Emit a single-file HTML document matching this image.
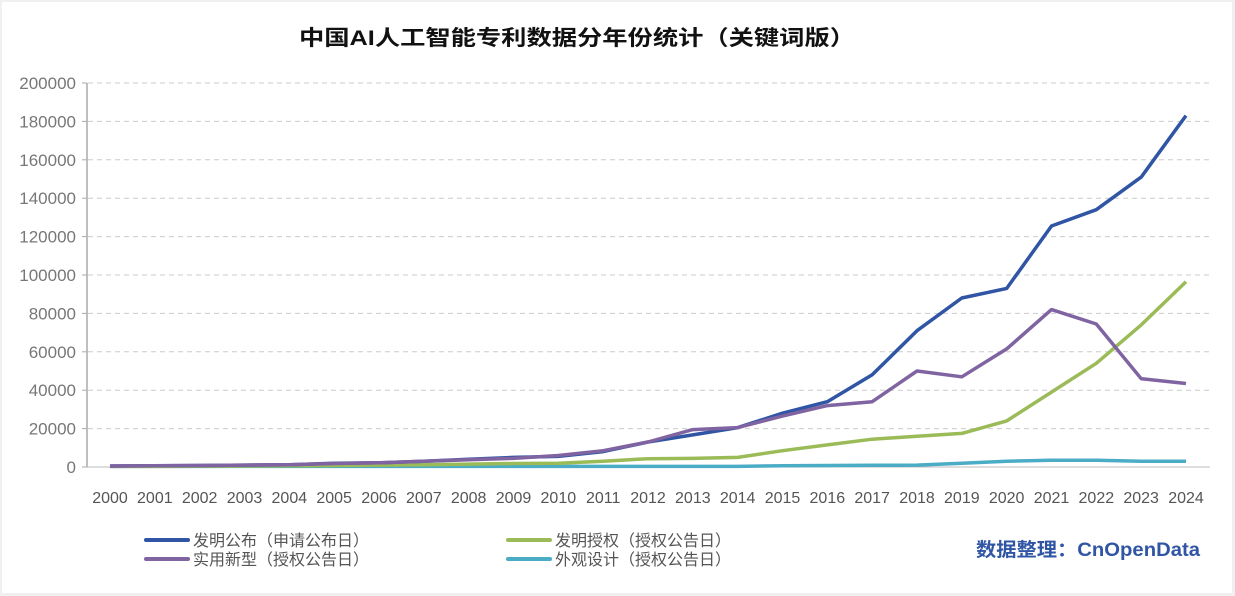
<!DOCTYPE html>
<html><head><meta charset="utf-8"><style>
body{margin:0;background:#f0f0f0;}
svg{display:block;font-family:"Liberation Sans","Noto Sans CJK SC",sans-serif;}
</style></head><body>
<svg id="s" width="1235" height="596" xmlns="http://www.w3.org/2000/svg">
<rect x="2" y="2" width="1230" height="591" fill="#fff"/>
<text x="577" y="45" text-anchor="middle" font-size="21" font-weight="bold" fill="#111" textLength="556" lengthAdjust="spacingAndGlyphs">中国AI人工智能专利数据分年份统计（关键词版）</text>
<g id="grid"></g>
<line x1="87" y1="83" x2="87" y2="467" stroke="#aaa" stroke-width="1.5"/>
<line x1="87" y1="467" x2="1210" y2="467" stroke="#bbb" stroke-width="1"/>
<g id="series"></g>
<g font-size="16" fill="#555">
<line x1="146" y1="540" x2="188" y2="540" stroke="#2f55a4" stroke-width="4" stroke-linecap="round"/>
<text x="193" y="546">发明公布（申请公布日）</text>
<line x1="146" y1="559" x2="188" y2="559" stroke="#8064a2" stroke-width="4" stroke-linecap="round"/>
<text x="193" y="565">实用新型（授权公告日）</text>
<line x1="508" y1="540" x2="550" y2="540" stroke="#9bbb59" stroke-width="4" stroke-linecap="round"/>
<text x="555" y="546">发明授权（授权公告日）</text>
<line x1="508" y1="559" x2="550" y2="559" stroke="#4bacc6" stroke-width="4" stroke-linecap="round"/>
<text x="555" y="565">外观设计（授权公告日）</text>
</g>
<text x="1200" y="556" text-anchor="end" font-size="19" font-weight="bold" fill="#2f55a4" textLength="224" lengthAdjust="spacingAndGlyphs">数据整理：CnOpenData</text>
</svg>
<script>
var ns="http://www.w3.org/2000/svg";
function Y(v){return 467-v*0.00192;}
function X(i){return 110+i*1076/24;}
var g=document.getElementById('grid');
for(var k=0;k<=10;k++){var v=k*20000,y=Y(v);
 if(k>0){var l=document.createElementNS(ns,'line');l.setAttribute('x1',88);l.setAttribute('x2',1210);l.setAttribute('y1',y);l.setAttribute('y2',y);l.setAttribute('stroke','#ccc');l.setAttribute('stroke-dasharray','5,4');g.appendChild(l);}
 var t=document.createElementNS(ns,'line');t.setAttribute('x1',82);t.setAttribute('x2',87);t.setAttribute('y1',y);t.setAttribute('y2',y);t.setAttribute('stroke','#aaa');g.appendChild(t);
 var tx=document.createElementNS(ns,'text');tx.setAttribute('x',76);tx.setAttribute('y',y+6);tx.setAttribute('text-anchor','end');tx.setAttribute('font-size','17');tx.setAttribute('fill','#777');tx.textContent=v;g.appendChild(tx);}
for(var i=0;i<25;i++){var tx=document.createElementNS(ns,'text');tx.setAttribute('x',X(i));tx.setAttribute('y',503);tx.setAttribute('text-anchor','middle');tx.setAttribute('font-size','16');tx.setAttribute('fill','#555');tx.textContent=2000+i;g.appendChild(tx);}
var S=[
['#4bacc6',[300,300,300,300,300,300,300,300,300,300,300,300,300,300,300,700,800,900,1000,2000,3000,3500,3500,3000,3000]],
['#9bbb59',[300,300,400,500,600,800,1000,1200,1500,1800,2000,3000,4300,4500,5000,8500,11500,14500,16000,17500,24000,39000,54000,74000,96500]],
['#2f55a4',[500,600,800,1000,1200,2000,2200,3000,4000,5000,5500,8000,13000,16700,20500,28000,34000,48000,71000,88000,93000,125500,134000,151000,183000]],
['#8064a2',[500,600,800,1000,1200,1800,2200,3000,3800,4500,6000,8500,13000,19500,20500,26500,32000,34000,50000,47000,61500,82000,74500,46000,43500]]];
var sg=document.getElementById('series');
S.forEach(function(s){var p=s[1].map(function(v,i){return X(i).toFixed(1)+','+Y(v).toFixed(1)}).join(' ');
 var pl=document.createElementNS(ns,'polyline');pl.setAttribute('points',p);pl.setAttribute('fill','none');pl.setAttribute('stroke',s[0]);pl.setAttribute('stroke-width','3.5');pl.setAttribute('stroke-linejoin','round');sg.appendChild(pl);});
</script>
</body></html>
